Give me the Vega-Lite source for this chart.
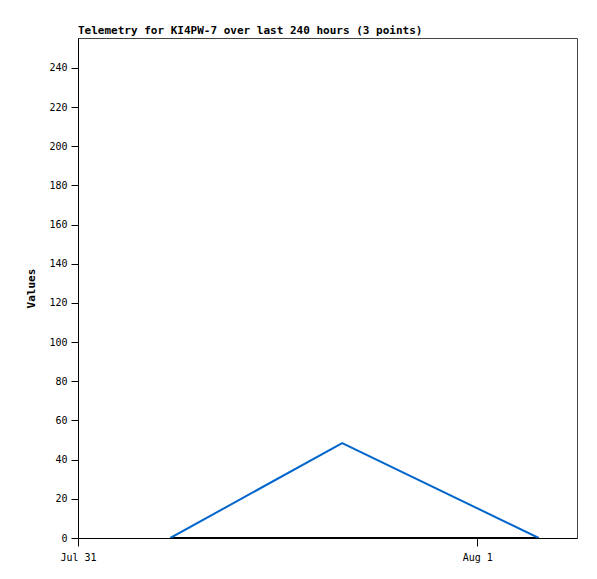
{
  "$schema": "https://vega.github.io/schema/vega-lite/v6.json",
  "width": 499,
  "height": 500,
  "autosize": "none",
  "padding": {"left": 78, "top": 38, "right": 20, "bottom": 41},
  "background": "white",
  "title": {
    "text": "Telemetry for KI4PW-7 over last 240 hours (3 points)",
    "anchor": "start",
    "frame": "group",
    "font": "DejaVu Sans Mono",
    "fontSize": 11,
    "fontWeight": "bold",
    "color": "black",
    "offset": 2
  },
  "config": {
    "view": {"stroke": "#444", "strokeWidth": 1},
    "axis": {
      "labelFont": "DejaVu Sans Mono",
      "labelFontSize": 10,
      "labelColor": "black",
      "titleFont": "DejaVu Sans Mono",
      "titleFontSize": 11,
      "titleColor": "black",
      "domainColor": "black",
      "tickColor": "black",
      "grid": false
    }
  },
  "data": {
    "values": [
      {"time": "2024-07-31T05:33:00Z", "value": 0, "series": "b"},
      {"time": "2024-07-31T15:53:00Z", "value": 0, "series": "b"},
      {"time": "2024-08-01T03:42:00Z", "value": 0, "series": "b"},
      {"time": "2024-07-31T05:33:00Z", "value": 0, "series": "a"},
      {"time": "2024-07-31T15:53:00Z", "value": 48.5, "series": "a"},
      {"time": "2024-08-01T03:42:00Z", "value": 0, "series": "a"}
    ]
  },
  "mark": {"type": "line", "strokeWidth": 2, "clip": true},
  "encoding": {
    "x": {
      "field": "time",
      "type": "temporal",
      "scale": {"type": "utc", "domain": ["2024-07-31T00:00:00Z", "2024-08-01T06:00:00Z"]},
      "axis": {
        "title": null,
        "values": ["2024-07-31T00:00:00Z", "2024-08-01T00:00:00Z"],
        "format": "%b %-d",
        "labelPadding": 6,
        "labelFlush": false,
        "labelBound": false,
        "tickSize": 8
      }
    },
    "y": {
      "field": "value",
      "type": "quantitative",
      "scale": {"domain": [0, 255.3], "nice": false},
      "axis": {
        "title": "Values",
        "values": [0, 20, 40, 60, 80, 100, 120, 140, 160, 180, 200, 220, 240],
        "tickSize": 7,
        "labelPadding": 4,
        "titlePadding": 12
      }
    },
    "color": {
      "field": "series",
      "type": "nominal",
      "scale": {"domain": ["a", "b"], "range": ["#0066cc", "black"]},
      "legend": null
    },
    "strokeWidth": {
      "field": "series",
      "type": "nominal",
      "scale": {"domain": ["a", "b"], "range": [2, 3]},
      "legend": null
    },
    "order": {"field": "series", "sort": "descending"}
  }
}
